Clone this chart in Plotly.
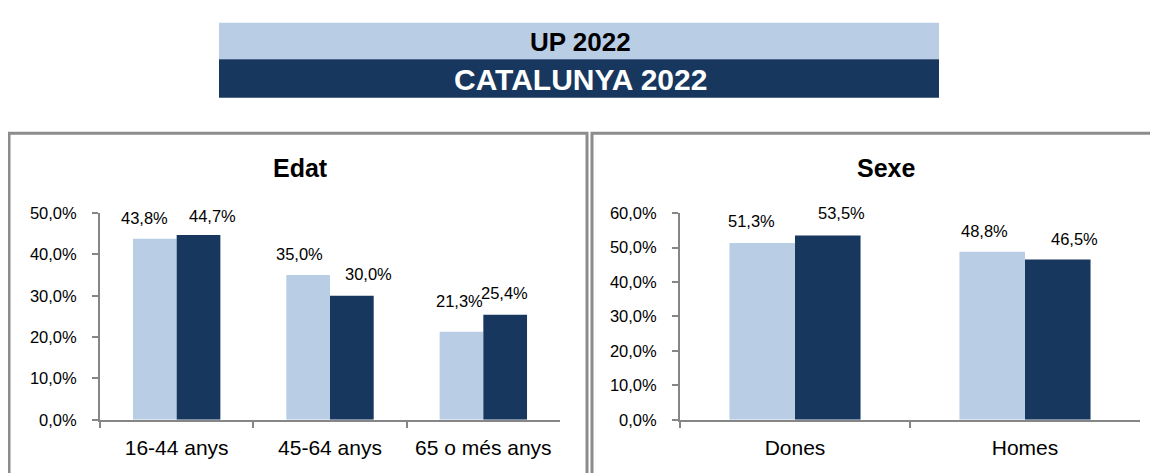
import plotly.graph_objects as go

# ---------------- data ----------------
series_names = ["UP 2022", "CATALUNYA 2022"]
edat_categories = ["16-44 anys", "45-64 anys", "65 o més anys"]
edat_up = [43.8, 35.0, 21.3]
edat_cat = [44.7, 30.0, 25.4]
sexe_categories = ["Dones", "Homes"]
sexe_up = [51.3, 48.8]
sexe_cat = [53.5, 46.5]
edat_ticks = [0, 10, 20, 30, 40, 50]
sexe_ticks = [0, 10, 20, 30, 40, 50, 60]

# ---------------- style ----------------
OFF = 8                      # default page body margin
W, H = 1158 - OFF, 473 - OFF
LIGHT = "#B9CDE5"
DARK = "#17375E"
AXIS = "#868686"
BORDER = "#8C8C8C"
FONT = "Liberation Sans, Arial, sans-serif"

def px(x):
    return (x - OFF) / W

def py(y):
    return 1 - (y - OFF) / H

# label nudges (pixels) relative to category centre, per series
edat_up_dx = [-32, -31, -23.5]
edat_cat_dx = [35.5, 38, 21.5]
edat_up_dy = [21, 21, 31]
edat_cat_dy = [19, 22, 22]
sexe_up_dx = [-44, -40.5]
sexe_cat_dx = [46, 49.5]
sexe_up_dy = [22, 21]
sexe_cat_dy = [22, 21]

def fmt(v):
    return f"{v:.1f}".replace(".", ",") + "%"

fig = go.Figure()

fig.add_trace(go.Bar(x=edat_categories, y=edat_up, name=series_names[0],
                     marker=dict(color=LIGHT, line=dict(width=0)),
                     xaxis="x", yaxis="y", showlegend=False))
fig.add_trace(go.Bar(x=edat_categories, y=edat_cat, name=series_names[1],
                     marker=dict(color=DARK, line=dict(width=0)),
                     xaxis="x", yaxis="y", showlegend=False))
fig.add_trace(go.Bar(x=sexe_categories, y=sexe_up, name=series_names[0],
                     marker=dict(color=LIGHT, line=dict(width=0)),
                     xaxis="x2", yaxis="y2", showlegend=False))
fig.add_trace(go.Bar(x=sexe_categories, y=sexe_cat, name=series_names[1],
                     marker=dict(color=DARK, line=dict(width=0)),
                     xaxis="x2", yaxis="y2", showlegend=False))

annotations = []
def add_labels(cats, vals, dxs, dys, xr, yr):
    for c, v, dx, dy in zip(cats, vals, dxs, dys):
        annotations.append(dict(x=c, y=v, xref=xr, yref=yr, text=fmt(v),
                                showarrow=False, xshift=dx, yshift=dy,
                                xanchor="center", yanchor="middle",
                                font=dict(family=FONT, size=16.5, color="#000000")))

add_labels(edat_categories, edat_up, edat_up_dx, edat_up_dy, "x", "y")
add_labels(edat_categories, edat_cat, edat_cat_dx, edat_cat_dy, "x", "y")
add_labels(sexe_categories, sexe_up, sexe_up_dx, sexe_up_dy, "x2", "y2")
add_labels(sexe_categories, sexe_cat, sexe_cat_dx, sexe_cat_dy, "x2", "y2")

# header texts
annotations.append(dict(x=px(580), y=py(34), xref="paper", yref="paper", text="<b>UP 2022</b>",
                        showarrow=False, xanchor="center", yanchor="middle",
                        font=dict(family=FONT, size=26, color="#000000")))
annotations.append(dict(x=px(580), y=py(73), xref="paper", yref="paper", text="<b>CATALUNYA 2022</b>",
                        showarrow=False, xanchor="center", yanchor="middle",
                        font=dict(family=FONT, size=30, color="#FFFFFF")))
# panel titles
annotations.append(dict(x=px(300), y=py(165), xref="paper", yref="paper", text="<b>Edat</b>",
                        showarrow=False, xanchor="center", yanchor="middle",
                        font=dict(family=FONT, size=25, color="#000000")))
annotations.append(dict(x=px(886), y=py(165), xref="paper", yref="paper", text="<b>Sexe</b>",
                        showarrow=False, xanchor="center", yanchor="middle",
                        font=dict(family=FONT, size=25, color="#000000")))

shapes = [
    dict(type="rect", xref="paper", yref="paper", x0=px(219), x1=px(939), y0=py(52), y1=py(14),
         fillcolor=LIGHT, line=dict(width=0), layer="below"),
    dict(type="rect", xref="paper", yref="paper", x0=px(219), x1=px(939), y0=py(92), y1=py(52),
         fillcolor=DARK, line=dict(width=0), layer="below"),
    dict(type="rect", xref="paper", yref="paper", x0=px(9), x1=px(587), y0=py(490), y1=py(129),
         fillcolor="rgba(0,0,0,0)", line=dict(color=BORDER, width=3), layer="below"),
    dict(type="rect", xref="paper", yref="paper", x0=px(592), x1=px(1175), y0=py(490), y1=py(129),
         fillcolor="rgba(0,0,0,0)", line=dict(color=BORDER, width=3), layer="below"),
]

tickfont = dict(family=FONT, size=16.5, color="#000000")
catfont = dict(family=FONT, size=21, color="#000000")

def yaxis_cfg(domain_y, rng, ticks, anchor):
    return dict(domain=domain_y, range=rng, tickmode="array", tickvals=ticks,
                ticktext=[fmt(t) for t in ticks],
                showgrid=False, zeroline=False, showline=True, linecolor=AXIS, linewidth=2,
                ticks="outside", ticklen=6, tickcolor=AXIS, tickwidth=2, tickfont=tickfont,
                anchor=anchor, ticklabelstandoff=12, fixedrange=True)

def xaxis_cfg(domain_x, anchor):
    return dict(domain=domain_x, showgrid=False, zeroline=False, showline=True, linecolor=AXIS,
                linewidth=2, ticks="outside", ticklen=6, tickcolor=AXIS, tickwidth=2,
                tickson="boundaries", tickfont=catfont, anchor=anchor, fixedrange=True,
                ticklabelstandoff=8)

dom_y = [py(427), py(212)]
fig.update_layout(
    width=W, height=H, margin=dict(l=0, r=0, t=0, b=0),
    paper_bgcolor="white", plot_bgcolor="white",
    separators=",.",
    barmode="group", bargap=0.43, bargroupgap=0,
    xaxis=xaxis_cfg([px(100), px(560)], "y"),
    yaxis=yaxis_cfg(dom_y, [0, 50], edat_ticks, "x"),
    xaxis2=xaxis_cfg([px(680), px(1140)], "y2"),
    yaxis2=yaxis_cfg(dom_y, [0, 60], sexe_ticks, "x2"),
    annotations=annotations, shapes=shapes,
    font=dict(family=FONT),
)

fig.write_html("out.html")
